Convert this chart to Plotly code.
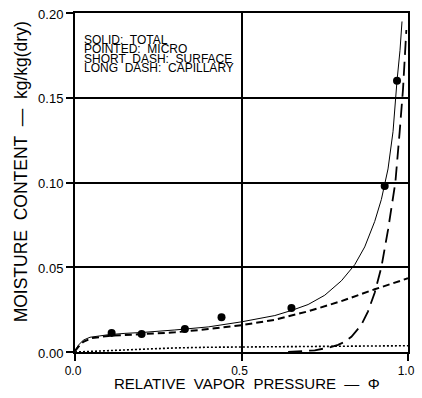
import plotly.graph_objects as go

# relative vapor pressure / moisture content
phi_total = [0.0, 0.01, 0.025, 0.045, 0.075, 0.1, 0.15, 0.2, 0.3, 0.4, 0.5, 0.6, 0.65,
             0.7, 0.75, 0.8, 0.84, 0.87, 0.9, 0.92, 0.94, 0.955, 0.967, 0.976, 0.982]
mc_total = [0.001, 0.004, 0.007, 0.0087, 0.0095, 0.0102, 0.011, 0.0115, 0.013, 0.0148,
            0.0178, 0.0215, 0.0245, 0.028, 0.0335, 0.042, 0.0515, 0.062, 0.077, 0.09,
            0.108, 0.13, 0.16, 0.178, 0.195]

phi_micro = [0.0, 0.05, 0.1, 0.2, 0.3, 0.4, 0.5, 0.7, 0.9, 1.0]
mc_micro = [0.0, 0.0004, 0.0009, 0.0018, 0.0024, 0.0028, 0.003, 0.0032, 0.0035, 0.0037]

phi_surface = [0.0, 0.01, 0.025, 0.05, 0.1, 0.2, 0.3, 0.4, 0.5, 0.6, 0.65, 0.7, 0.8, 0.9, 1.0]
mc_surface = [0.0005, 0.003, 0.006, 0.0082, 0.0095, 0.0104, 0.0116, 0.0135, 0.0158,
              0.019, 0.0215, 0.024, 0.03, 0.037, 0.0435]

phi_capillary = [0.64, 0.68, 0.72, 0.76, 0.79, 0.81, 0.83, 0.86, 0.88, 0.9, 0.92, 0.94,
                 0.962, 0.975, 0.985, 0.995]
mc_capillary = [0.0, 0.0003, 0.001, 0.0025, 0.0042, 0.006, 0.009, 0.016, 0.024, 0.035,
                0.05, 0.072, 0.10, 0.13, 0.155, 0.19]

phi_meas = [0.11, 0.20, 0.33, 0.44, 0.65, 0.93, 0.967]
mc_meas = [0.0112, 0.0106, 0.0135, 0.0205, 0.026, 0.098, 0.16]

legend_lines = ["SOLID:  TOTAL", "POINTED:  MICRO", "SHORT  DASH:  SURFACE", "LONG  DASH:  CAPILLARY"]

FONT = "Liberation Sans, Arial, sans-serif"

fig = go.Figure()
fig.add_trace(go.Scatter(x=phi_micro, y=mc_micro, mode="lines",
                         line=dict(color="black", width=1.6, dash="2px,2px")))
fig.add_trace(go.Scatter(x=phi_surface, y=mc_surface, mode="lines",
                         line=dict(color="black", width=2, dash="7px,4px")))
fig.add_trace(go.Scatter(x=phi_capillary, y=mc_capillary, mode="lines",
                         line=dict(color="black", width=1.8, dash="14px,7px")))
fig.add_trace(go.Scatter(x=phi_total, y=mc_total, mode="lines",
                         line=dict(color="black", width=1)))
fig.add_trace(go.Scatter(x=phi_meas, y=mc_meas, mode="markers",
                         marker=dict(color="black", size=8)))

axis_common = dict(
    showline=True, linecolor="black", linewidth=2, mirror=True,
    showgrid=True, gridcolor="black", gridwidth=1.5,
    ticks="outside", ticklen=7, tickwidth=1.5, tickcolor="black",
    zeroline=False, ticklabeloverflow="allow",
)
fig.update_xaxes(range=[0, 1], dtick=0.5, tickformat=".1f", ticklabelshift=-2,
                 tickfont=dict(family=FONT, size=12, color="black"), **axis_common)
fig.update_yaxes(range=[0, 0.2], dtick=0.05, tickformat=".2f", ticklabelshift=1,
                 tickfont=dict(family=FONT, size=13, color="black"), **axis_common)

annotations = [
    dict(text="MOISTURE  CONTENT  —  kg/kg(dry)", xref="paper", yref="paper",
         x=-0.163, y=0.532, textangle=-90, showarrow=False,
         xanchor="center", yanchor="middle",
         font=dict(family=FONT, size=17.5, color="black")),
    dict(text="RELATIVE  VAPOR  PRESSURE  —  Φ", xref="paper", yref="paper",
         x=0.516, y=-0.094, showarrow=False,
         xanchor="center", yanchor="middle",
         font=dict(family=FONT, size=15, color="black")),
]
for i, line in enumerate(legend_lines):
    annotations.append(dict(text=line, xref="paper", yref="paper",
                            x=0.022, y=(352 - (39 + 9.4 * i)) / 340,
                            xanchor="left", yanchor="middle", showarrow=False,
                            font=dict(family=FONT, size=12, color="black")))

fig.update_layout(
    width=422, height=398,
    margin=dict(l=75, r=7, t=12, b=46),
    paper_bgcolor="white", plot_bgcolor="white",
    showlegend=False,
    annotations=annotations,
)

# drop the default body margin so the figure fills the window exactly
fig.write_html("out.html", config={"displayModeBar": False},
               post_script="document.body.style.margin='0';document.body.style.overflow='hidden';")
